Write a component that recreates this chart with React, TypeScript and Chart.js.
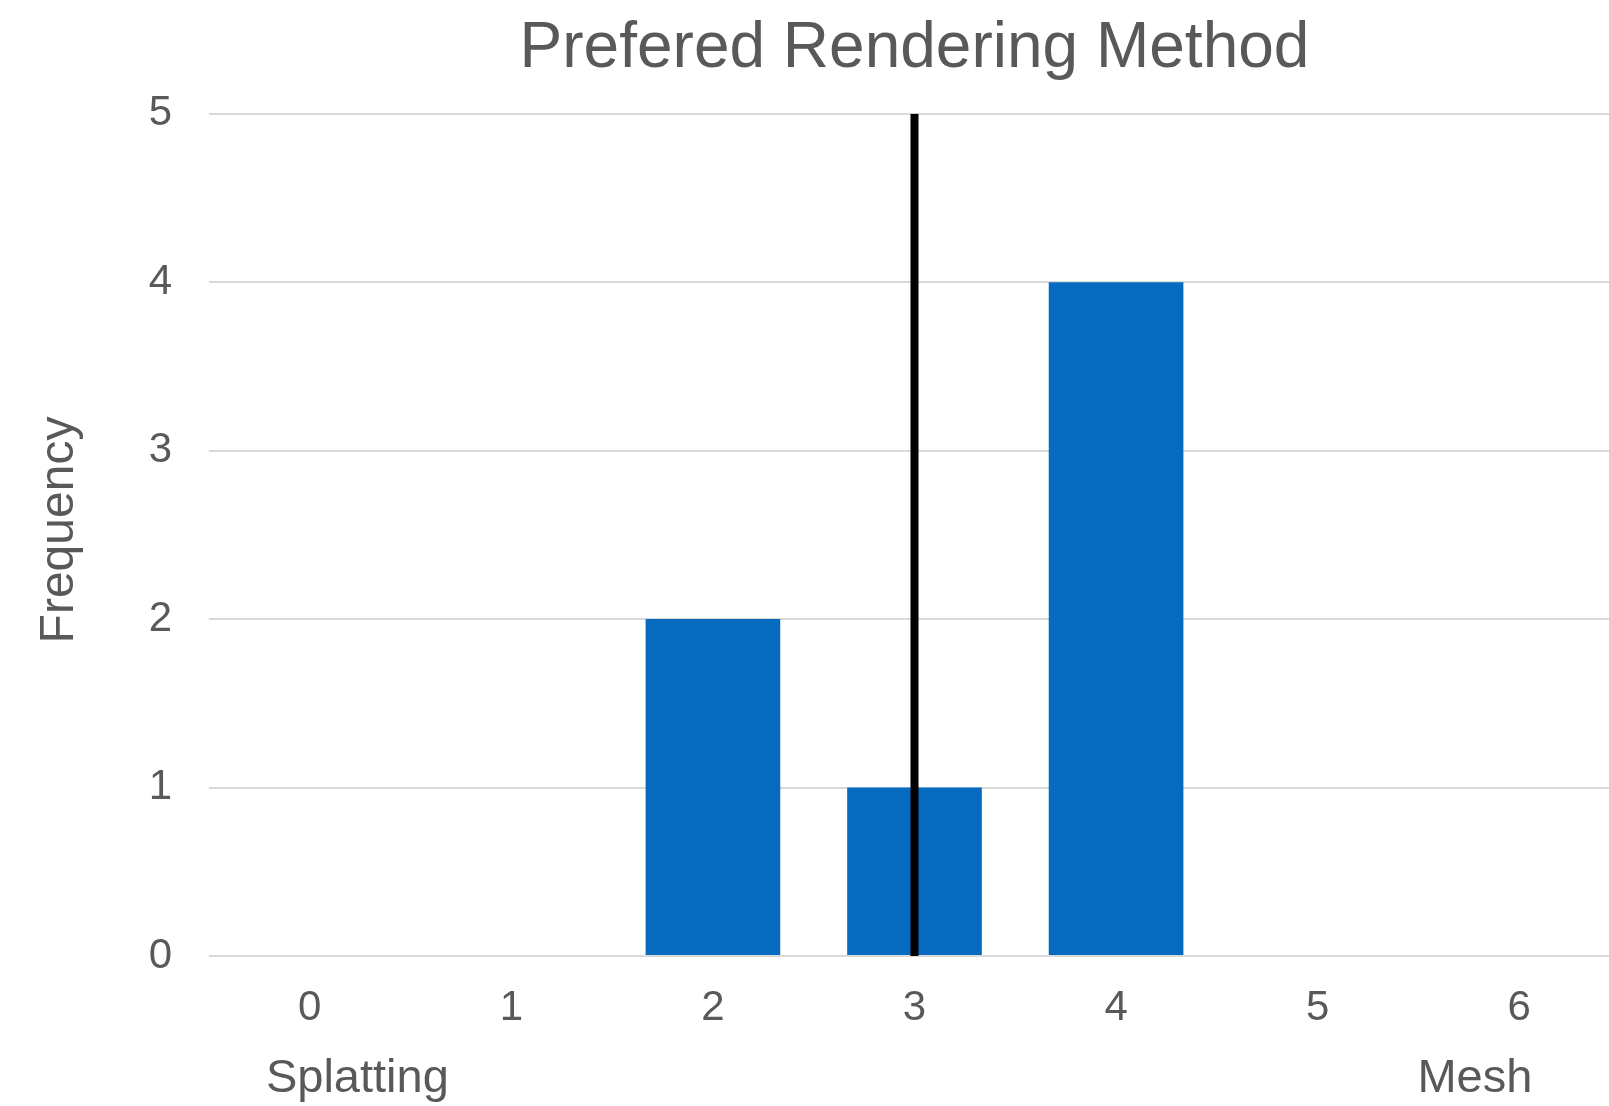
import React, { useEffect, useRef } from "react";
import { Chart, registerables } from "chart.js";

Chart.register(...registerables);

const categories: string[] = ["0", "1", "2", "3", "4", "5", "6"];
const frequency: number[] = [0, 0, 2, 1, 4, 0, 0];
const markerCategory = "3";
const markerRange: number[] = [0, 5];
const yTicks: number[] = [0, 1, 2, 3, 4, 5];
const chartTitle = "Prefered Rendering Method";
const yTitle = "Frequency";
const endLabels: string[] = ["Splatting", "Mesh"];

const FONT = "'Liberation Sans', Arial, Helvetica, sans-serif";
const GREY = "#595959";

const textPlugin = {
  id: "extraText",
  afterDraw(chart: any) {
    const ctx = chart.ctx;
    const xs = chart.scales.x;
    ctx.save();
    ctx.fillStyle = GREY;
    ctx.font = `47px ${FONT}`;
    ctx.textAlign = "center";
    ctx.textBaseline = "alphabetic";
    ctx.fillText(endLabels[0], xs.getPixelForValue(0.236), 1092);
    ctx.fillText(endLabels[1], xs.getPixelForValue(5.78), 1092);
    ctx.font = `48px ${FONT}`;
    ctx.translate(73, 530);
    ctx.rotate(-Math.PI / 2);
    ctx.fillText(yTitle, 0, 0);
    ctx.restore();
  },
};

export default function App() {
  const ref = useRef<HTMLCanvasElement | null>(null);
  useEffect(() => {
    if (!ref.current) return;
    const chart = new Chart(ref.current, {
      type: "bar",
      data: {
        labels: categories,
        datasets: [
          {
            type: "line",
            data: markerRange.map((v) => ({ x: markerCategory, y: v })) as any,
            borderColor: "#000000",
            borderWidth: 8,
            pointRadius: 0,
            order: 0,
          } as any,
          {
            type: "bar",
            data: frequency,
            backgroundColor: "#066BBE",
            barPercentage: 0.668,
            categoryPercentage: 1,
            order: 1,
          },
        ],
      },
      options: {
        responsive: false,
        animation: false,
        layout: { padding: 0 },
        plugins: {
          legend: { display: false },
          tooltip: { enabled: false },
          title: {
            display: true,
            text: chartTitle,
            color: GREY,
            fullSize: false,
            font: { family: FONT, size: 64, weight: "normal" },
            padding: { top: 11, bottom: 26 },
          },
        },
        scales: {
          x: {
            type: "category",
            offset: true,
            grid: { display: false, drawTicks: false },
            border: { display: false },
            ticks: {
              color: GREY,
              font: { family: FONT, size: 42 },
              padding: 27,
              maxRotation: 0,
            },
            afterFit(scale: any) {
              scale.height = 150;
            },
          },
          y: {
            min: 0,
            max: 5,
            afterBuildTicks(scale: any) {
              scale.ticks = yTicks.map((v) => ({ value: v }));
            },
            grid: { color: "#D9D9D9", lineWidth: 2, drawTicks: false },
            border: { display: false },
            ticks: {
              color: GREY,
              font: { family: FONT, size: 42 },
              padding: 37,
            },
            afterFit(scale: any) {
              scale.width = 209;
            },
          },
        },
      },
      plugins: [textPlugin],
    });
    return () => chart.destroy();
  }, []);

  return (
    <div
      style={{
        position: "fixed",
        left: 0,
        top: 0,
        width: 1609,
        height: 1106,
        overflow: "hidden",
        background: "#ffffff",
      }}
    >
      <canvas ref={ref} width={1620} height={1106} style={{ display: "block" }} />
    </div>
  );
}
